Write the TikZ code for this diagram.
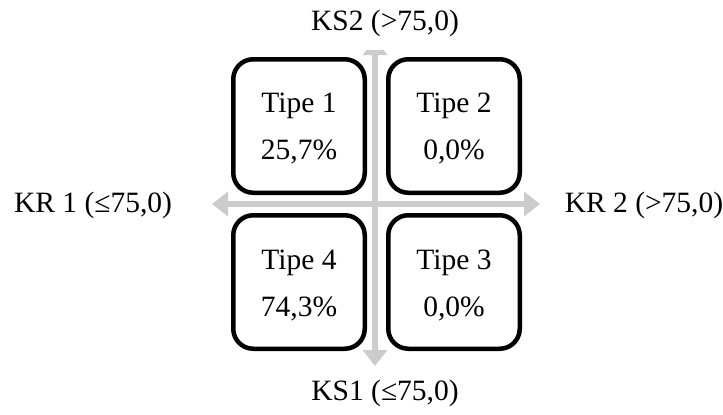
\documentclass[tikz,border=0pt]{standalone}
\usepackage{fontspec}
\setmainfont{Liberation Serif}
\usetikzlibrary{arrows.meta}
\begin{document}
\begin{tikzpicture}[x=1pt,y=-1pt,
  quad/.style={draw=black, line width=4.5pt, rounded corners=20pt, minimum width=131.5pt, minimum height=133.5pt, inner sep=0pt},
  quadtext/.style={align=center, font=\fontsize{29.5}{47}\selectfont, inner sep=0pt},
  axisline/.style={draw=black!20, line width=6.5pt, {Triangle[width=24pt,length=16pt]}-{Triangle[width=24pt,length=16pt]}},
  lab/.style={font=\fontsize{29.5}{35}\selectfont, inner sep=0pt}]
\useasboundingbox (0,0) rectangle (723,415);
\coordinate (w) at (212,204);
\coordinate (e) at (540,204);
\coordinate (n) at (375,39);
\coordinate (s) at (375,366);
\draw[axisline] (w) -- (e);
\draw[axisline] (n) -- (s);
\node[quad] (t1) at (299,126) {};
\node[quad] (t2) at (454,126) {};
\node[quad] (t4) at (299,282) {};
\node[quad] (t3) at (454,282) {};
\node[quadtext] (t1t) at (299,129) {Tipe 1\\25,7\%};
\node[quadtext] (t2t) at (454,129) {Tipe 2\\0,0\%};
\node[quadtext] (t4t) at (299,285) {Tipe 4\\74,3\%};
\node[quadtext] (t3t) at (454,285) {Tipe 3\\0,0\%};
\node[lab, fill=white, minimum height=54pt] (ks2) at (385,23) {KS2 (>75,0)};
\node[lab] (ks1) at (385,393) {KS1 (≤75,0)};
\node[lab] (kr1) at (93,205) {KR 1 (≤75,0)};
\node[lab] (kr2) at (644,205) {KR 2 (>75,0)};
\end{tikzpicture}
\end{document}
